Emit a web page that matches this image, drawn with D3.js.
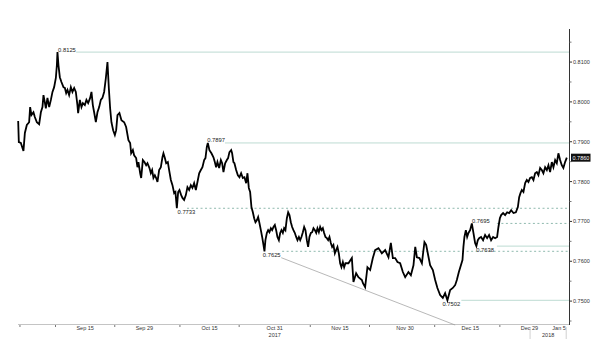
<!DOCTYPE html>
<meta charset="utf-8">
<script src="https://d3js.org/d3.v7.min.js"></script>
<style>
    body {
        margin: 0;
        background: #fff;
    }
    text {
        font-family: "Liberation Sans", Arial, sans-serif;
    }
    .price {
        fill: none;
        stroke: #000;
        stroke-width: 1.8;
        stroke-linejoin: miter;
    }
</style>
<body>
<svg width="600" height="354" class="chart"></svg>
</body>
<script>
    // trading days counted from Thu 31 Aug 2017 (weekends skipped), price
    const quotes = [
        [-0.30, 0.7952], [-0.19, 0.7899], [0.15, 0.7897], [0.59, 0.7877], [0.83, 0.7922], [1.16, 0.7942],
        [1.55, 0.7949], [1.72, 0.7987], [1.94, 0.7967], [2.28, 0.7974], [2.51, 0.7962], [2.85, 0.7949],
        [3.24, 0.7944], [3.53, 0.7974], [3.80, 0.7987], [3.97, 0.8017], [4.20, 0.7999], [4.37, 0.7984],
        [4.64, 0.8010], [4.93, 0.7987], [5.22, 0.8005], [5.49, 0.8025], [5.77, 0.8037], [6.06, 0.8060],
        [6.23, 0.8092], [6.33, 0.8125], [6.50, 0.8092], [6.73, 0.8062], [7.00, 0.8050], [7.34, 0.8037],
        [7.58, 0.8035], [7.80, 0.8022], [8.02, 0.8030], [8.30, 0.8017], [8.59, 0.8037], [8.86, 0.8025],
        [9.15, 0.8035], [9.43, 0.8025], [9.70, 0.7992], [9.82, 0.7972], [10.11, 0.8005], [10.38, 0.7987],
        [10.62, 0.7997], [10.95, 0.7992], [11.22, 0.8005], [11.51, 0.7997], [11.85, 0.8010], [12.07, 0.8025],
        [12.30, 0.7992], [12.52, 0.7974], [12.81, 0.7949], [13.08, 0.7974], [13.37, 0.7987], [13.65, 0.8005],
        [13.92, 0.8010], [14.21, 0.8025], [14.50, 0.8060], [14.77, 0.8100], [15.00, 0.8035], [15.22, 0.7984],
        [15.44, 0.7949], [15.73, 0.7929], [16.02, 0.7917], [16.24, 0.7929], [16.46, 0.7967], [16.79, 0.7972],
        [17.13, 0.7954], [17.59, 0.7949], [17.92, 0.7937],
        [18.31, 0.7904], [18.60, 0.7897], [18.77, 0.7871], [19.06, 0.7879], [19.27, 0.7866], [19.61, 0.7859],
        [19.83, 0.7836], [20.00, 0.7849], [20.29, 0.7821], [20.46, 0.7809], [20.74, 0.7854], [21.01, 0.7849],
        [21.30, 0.7841], [21.52, 0.7846], [21.86, 0.7834], [22.09, 0.7821], [22.31, 0.7829], [22.53, 0.7809],
        [22.77, 0.7816], [22.99, 0.7809], [23.21, 0.7799], [23.49, 0.7829], [23.78, 0.7836], [24.05, 0.7861],
        [24.22, 0.7871], [24.46, 0.7859], [24.68, 0.7846], [24.96, 0.7849], [25.18, 0.7829], [25.47, 0.7804],
        [25.74, 0.7791], [26.03, 0.7771], [26.24, 0.7774], [26.48, 0.7733], [26.70, 0.7774], [26.92, 0.7779],
        [27.21, 0.7766], [27.43, 0.7759], [27.71, 0.7754], [28.00, 0.7766], [28.27, 0.7786], [28.56, 0.7779],
        [28.84, 0.7791], [29.11, 0.7784], [29.40, 0.7796], [29.69, 0.7779], [29.96, 0.7799], [30.25, 0.7821],
        [30.53, 0.7829], [30.80, 0.7836], [31.09, 0.7854], [31.31, 0.7859], [31.54, 0.7887], [31.71, 0.7897],
        [31.98, 0.7879], [32.32, 0.7871], [32.66, 0.7861], [32.89, 0.7849], [33.11, 0.7836], [33.33, 0.7849],
        [33.62, 0.7834], [33.91, 0.7854], [34.13, 0.7846], [34.35, 0.7824], [34.63, 0.7846], [34.92, 0.7854],
        [35.13, 0.7859], [35.36, 0.7874], [35.65, 0.7879], [35.81, 0.7871], [36.03, 0.7849], [36.20, 0.7846],
        [36.49, 0.7829], [36.78, 0.7816], [37.05, 0.7811], [37.33, 0.7821], [37.62, 0.7809], [37.89, 0.7811],
        [38.18, 0.7796], [38.40, 0.7821], [38.63, 0.7784], [38.85, 0.7774], [39.07, 0.7736], [39.31, 0.7723],
        [39.53, 0.7708], [39.75, 0.7698], [39.98, 0.7703], [40.20, 0.7711], [40.42, 0.7696], [40.66, 0.7678],
        [40.88, 0.7661], [41.10, 0.7641], [41.27, 0.7625], [41.43, 0.7653], [41.67, 0.7671], [41.89, 0.7678],
        [42.11, 0.7673], [42.35, 0.7683], [42.57, 0.7678], [42.79, 0.7686], [43.02, 0.7691], [43.24, 0.7678],
        [43.46, 0.7661], [43.70, 0.7653], [43.92, 0.7671], [44.14, 0.7678], [44.37, 0.7671], [44.59, 0.7683],
        [44.81, 0.7678], [45.05, 0.7708], [45.27, 0.7723], [45.49, 0.7716], [45.72, 0.7698], [45.94, 0.7686],
        [46.16, 0.7678], [46.40, 0.7671], [46.62, 0.7661], [46.84, 0.7653], [47.08, 0.7661], [47.30, 0.7653],
        [47.51, 0.7661], [47.75, 0.7673], [47.97, 0.7686], [48.19, 0.7678], [48.42, 0.7653], [48.64, 0.7636],
        [48.86, 0.7661], [49.10, 0.7671], [49.32, 0.7673], [49.54, 0.7683], [49.78, 0.7678], [50.00, 0.7671],
        [50.21, 0.7683], [50.45, 0.7673], [50.67, 0.7686], [50.89, 0.7678], [51.12, 0.7683], [51.34, 0.7671],
        [51.56, 0.7661], [51.80, 0.7658], [52.02, 0.7653], [52.24, 0.7661], [52.47, 0.7646], [52.69, 0.7636],
        [52.91, 0.7641], [53.15, 0.7620], [53.36, 0.7628], [53.59, 0.7636], [53.82, 0.7620], [54.04, 0.7595],
        [54.26, 0.7585], [54.50, 0.7598], [54.72, 0.7585], [54.94, 0.7595],
        [55.44, 0.7595], [56.02, 0.7608], [56.29, 0.7548], [56.74, 0.7570], [57.13, 0.7560], [57.71, 0.7553],
        [57.89, 0.7545], [58.26, 0.7535], [58.65, 0.7585], [59.11, 0.7578], [59.56, 0.7608], [59.95, 0.7628],
        [60.51, 0.7633], [61.08, 0.7620], [61.64, 0.7628], [62.20, 0.7610], [62.60, 0.7646], [62.94, 0.7608],
        [63.33, 0.7608], [63.72, 0.7598], [64.17, 0.7595], [64.63, 0.7573], [65.02, 0.7560], [65.57, 0.7573],
        [65.98, 0.7565], [66.42, 0.7590], [66.72, 0.7636], [67.00, 0.7610], [67.43, 0.7608], [67.84, 0.7595],
        [68.27, 0.7648], [68.56, 0.7641], [68.90, 0.7615], [69.23, 0.7590], [69.69, 0.7578], [70.08, 0.7553],
        [70.46, 0.7533], [70.92, 0.7515], [71.37, 0.7508], [71.76, 0.7520], [72.15, 0.7502], [72.61, 0.7528],
        [73.06, 0.7533], [73.45, 0.7540], [73.74, 0.7553], [74.08, 0.7573],
        [74.69, 0.7603], [74.85, 0.7636], [75.02, 0.7661], [75.26, 0.7678], [75.48, 0.7661], [75.70, 0.7671],
        [75.98, 0.7678], [76.27, 0.7695], [76.54, 0.7671], [76.82, 0.7646], [77.04, 0.7638], [77.28, 0.7653],
        [77.50, 0.7658], [77.83, 0.7661], [78.17, 0.7653], [78.51, 0.7666], [78.85, 0.7658], [79.18, 0.7666],
        [79.52, 0.7653], [79.86, 0.7661], [80.20, 0.7658], [80.54, 0.7661], [80.76, 0.7686], [81.00, 0.7708],
        [81.22, 0.7716], [81.55, 0.7721], [81.89, 0.7716], [82.23, 0.7723], [82.57, 0.7721], [82.91, 0.7728],
        [83.30, 0.7721], [83.70, 0.7723], [84.04, 0.7736], [84.26, 0.7761], [84.48, 0.7771], [84.71, 0.7779],
        [84.98, 0.7774], [85.27, 0.7796], [85.55, 0.7804], [85.82, 0.7799], [86.11, 0.7809], [86.40, 0.7811],
        [86.67, 0.7804], [86.95, 0.7821], [87.24, 0.7824], [87.51, 0.7816], [87.80, 0.7834], [88.08, 0.7829],
        [88.35, 0.7821], [88.64, 0.7836], [88.93, 0.7829], [89.20, 0.7841], [89.48, 0.7824], [89.77, 0.7849],
        [90.04, 0.7836], [90.33, 0.7854], [90.61, 0.7846], [90.88, 0.7871], [91.17, 0.7854], [91.45, 0.7841],
        [91.72, 0.7834], [92.01, 0.7849], [92.30, 0.7860]
    ];

    // marked highs / lows
    const levels = [0.8125, 0.7897, 0.7733, 0.7625, 0.7695, 0.7638, 0.7502];
    const levelLabelDay = [6.44, 31.6, 26.6, 41.0, 76.3, 77.0, 71.3];
    const levelLineDay = [9.48, 34.6, 28.2, 44.25, 80.5, 80.5, 74.5];
    const levelDashed = [false, false, true, true, true, false, false];
    const levelAbove = [true, true, false, false, true, false, false];

    // falling support line
    const trendStart = [44.1, 0.7609];
    const trendEnd = [73.45, 0.7440];

    const lastPrice = 0.7860;

    const yMajor = [0.75, 0.76, 0.77, 0.78, 0.79, 0.80, 0.81];
    const yMinor = [0.745, 0.755, 0.765, 0.775, 0.785, 0.795, 0.805, 0.815];

    const labelDates = ['2017-09-15', '2017-09-29', '2017-10-15', '2017-10-31', '2017-11-15',
        '2017-11-30', '2017-12-15', '2017-12-29', '2018-01-05'];
    const tickDates = ['2017-08-31', '2017-09-08', '2017-09-22', '2017-10-09', '2017-10-23',
        '2017-11-08', '2017-11-22', '2017-12-07', '2017-12-22'];
    const yearBracket = [86.1, 92.2];

    const parse = d3.timeParse('%Y-%m-%d');
    const fmt = d3.timeFormat('%b %-d');
    const base = new Date(2017, 7, 31);

    function tradingIndex(d) {
        let n = 0;
        for (let t = new Date(base); t < d; t.setDate(t.getDate() + 1)) {
            const w = t.getDay();
            if (w !== 0 && w !== 6) n++;
        }
        return n;
    }

    const plotLeft = 18, plotRight = 569, plotTop = 29, plotBottom = 325;

    const x = d3.scaleLinear().domain([-0.33, 92.67]).range([plotLeft, plotRight]);
    const y = d3.scaleLinear().domain([0.7440, 0.8183]).range([plotBottom, plotTop]);

    const svg = d3.select('.chart');

    // x axis baseline
    svg.append('line')
        .attr('x1', plotLeft).attr('x2', plotRight)
        .attr('y1', 324.5).attr('y2', 324.5)
        .attr('stroke', '#c4c4c4');

    svg.append('g')
        .selectAll('line')
        .data(tickDates.map(parse))
        .enter()
        .append('line')
        .attr('x1', d => x(tradingIndex(d)))
        .attr('x2', d => x(tradingIndex(d)))
        .attr('y1', 325).attr('y2', 327)
        .attr('stroke', '#777');

    svg.append('g')
        .selectAll('text')
        .data(labelDates.map(parse))
        .enter()
        .append('text')
        .attr('x', d => x(tradingIndex(d)))
        .attr('y', 330)
        .attr('text-anchor', 'middle')
        .attr('font-size', 5.5)
        .attr('fill', '#333')
        .text(fmt);

    svg.append('text')
        .attr('x', x(tradingIndex(parse('2017-10-31'))))
        .attr('y', 336.5)
        .attr('text-anchor', 'middle')
        .attr('font-size', 5.5)
        .attr('fill', '#333')
        .text('2017');

    svg.append('text')
        .attr('x', x((yearBracket[0] + yearBracket[1]) / 2))
        .attr('y', 336.5)
        .attr('text-anchor', 'middle')
        .attr('font-size', 5.5)
        .attr('fill', '#333')
        .text('2018');

    svg.append('g')
        .selectAll('line')
        .data(yearBracket)
        .enter()
        .append('line')
        .attr('x1', d => x(d)).attr('x2', d => x(d))
        .attr('y1', 327).attr('y2', 339)
        .attr('stroke', '#bbb')
        .attr('stroke-width', 0.7);

    // level lines
    const lv = svg.append('g');
    levels.forEach((v, i) => {
        lv.append('line')
            .attr('x1', x(levelLineDay[i]))
            .attr('x2', plotRight)
            .attr('y1', y(v)).attr('y2', y(v))
            .attr('stroke', levelDashed[i] ? '#8fb9ae' : '#bddbd2')
            .attr('stroke-width', 1)
            .attr('stroke-dasharray', levelDashed[i] ? '2,2.5' : null);
        lv.append('text')
            .attr('x', x(levelLabelDay[i]))
            .attr('y', levelAbove[i] ? y(v) - 0.5 : y(v) + 6)
            .attr('font-size', 5.8)
            .attr('fill', '#222')
            .text(v.toFixed(4));
    });

    // trend line
    svg.append('line')
        .attr('x1', x(trendStart[0])).attr('y1', y(trendStart[1]))
        .attr('x2', x(trendEnd[0])).attr('y2', y(trendEnd[1]))
        .attr('stroke', '#9a9a9a')
        .attr('stroke-width', 0.7);

    // price
    const line = d3.line()
        .x(d => x(d[0]))
        .y(d => y(d[1]));

    svg.append('path')
        .datum(quotes)
        .attr('class', 'price')
        .attr('d', line);

    // right axis
    svg.append('line')
        .attr('x1', plotRight + 0.5).attr('x2', plotRight + 0.5)
        .attr('y1', plotTop).attr('y2', plotBottom)
        .attr('stroke', '#333');

    const ya = svg.append('g');
    ya.selectAll('.maj')
        .data(yMajor)
        .enter()
        .append('line')
        .attr('x1', plotRight + 0.5).attr('x2', plotRight + 3)
        .attr('y1', d => y(d)).attr('y2', d => y(d))
        .attr('stroke', '#333');
    ya.selectAll('.min')
        .data(yMinor)
        .enter()
        .append('line')
        .attr('x1', plotRight + 0.5).attr('x2', plotRight + 2.5)
        .attr('y1', d => y(d)).attr('y2', d => y(d))
        .attr('stroke', '#777');
    ya.selectAll('text')
        .data(yMajor)
        .enter()
        .append('text')
        .attr('x', plotRight + 4)
        .attr('y', d => y(d))
        .attr('dy', '0.35em')
        .attr('font-size', 5.5)
        .attr('fill', '#333')
        .text(d => d.toFixed(4));

    // last price tag
    svg.append('rect')
        .attr('x', plotRight + 2)
        .attr('y', y(lastPrice) - 4)
        .attr('width', 19.5)
        .attr('height', 8)
        .attr('fill', '#111');
    svg.append('text')
        .attr('x', plotRight + 3.5)
        .attr('y', y(lastPrice))
        .attr('dy', '0.35em')
        .attr('font-size', 5.5)
        .attr('fill', '#fff')
        .text(lastPrice.toFixed(4));
</script>
